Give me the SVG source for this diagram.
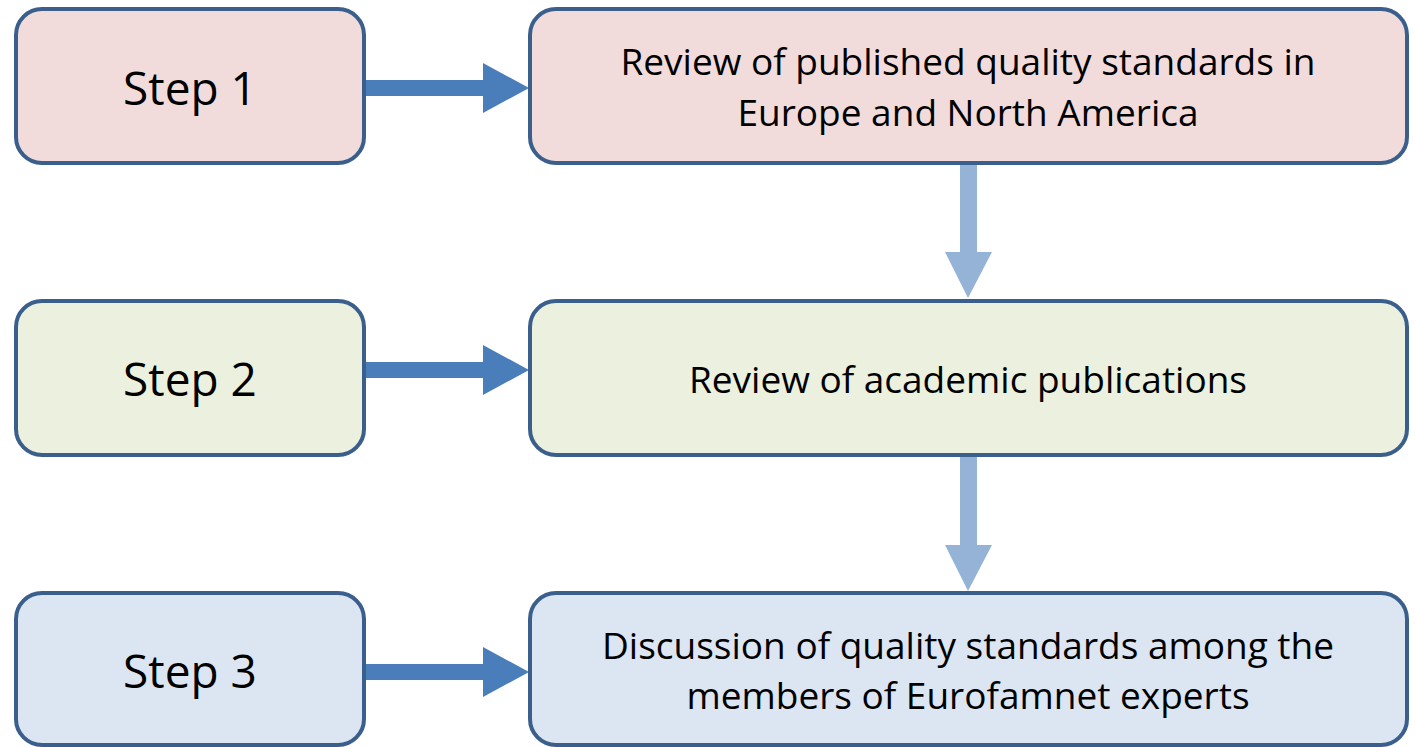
<svg xmlns="http://www.w3.org/2000/svg" width="1415" height="747" viewBox="0 0 1415 747">
<style>
.box{stroke:#3B5F8D;stroke-width:4}
.p{fill:#F2DCDB}.g{fill:#EBF1DE}.b{fill:#DCE6F2}
.t{font-family:"Open Sans","Noto Sans","Liberation Sans",sans-serif;fill:#000;text-anchor:middle}
.s{font-size:46px}.m{font-size:37px}
.ha{fill:#4A7EBB}.va{fill:#95B3D7}
</style>
<rect width="1415" height="747" fill="#fff"/>
<g id="connectors">
<polygon class="ha" points="365,80 483,80 483,63 529,88 483,113 483,96 365,96"/>
<polygon class="ha" points="365,362 483,362 483,345 529,370 483,395 483,378 365,378"/>
<polygon class="ha" points="365,664 483,664 483,647 529,672 483,697 483,680 365,680"/>
<polygon class="va" points="960,163 977,163 977,252 992,252 968,298 945,252 960,252"/>
<polygon class="va" points="960,456 977,456 977,545 992,545 968,591 945,545 960,545"/>
</g>
<g id="step1"><rect class="box p" x="16" y="9" width="348" height="154" rx="26"/><text class="t s" x="190" y="105">Step 1</text></g>
<g id="review-standards"><rect class="box p" x="530" y="9" width="877" height="154" rx="26"/><text class="t m"><tspan x="968" y="75">Review of published quality standards in</tspan><tspan x="968" y="126">Europe and North America</tspan></text></g>
<g id="step2"><rect class="box g" x="16" y="301" width="348" height="154" rx="26"/><text class="t s" x="190" y="396">Step 2</text></g>
<g id="review-academic"><rect class="box g" x="530" y="301" width="877" height="154" rx="26"/><text class="t m" x="968" y="393">Review of academic publications</text></g>
<g id="step3"><rect class="box b" x="16" y="593" width="348" height="152" rx="26"/><text class="t s" x="190" y="688">Step 3</text></g>
<g id="discussion"><rect class="box b" x="530" y="593" width="877" height="152" rx="26"/><text class="t m"><tspan x="968" y="659">Discussion of quality standards among the</tspan><tspan x="968" y="709">members of Eurofamnet experts</tspan></text></g>
</svg>
